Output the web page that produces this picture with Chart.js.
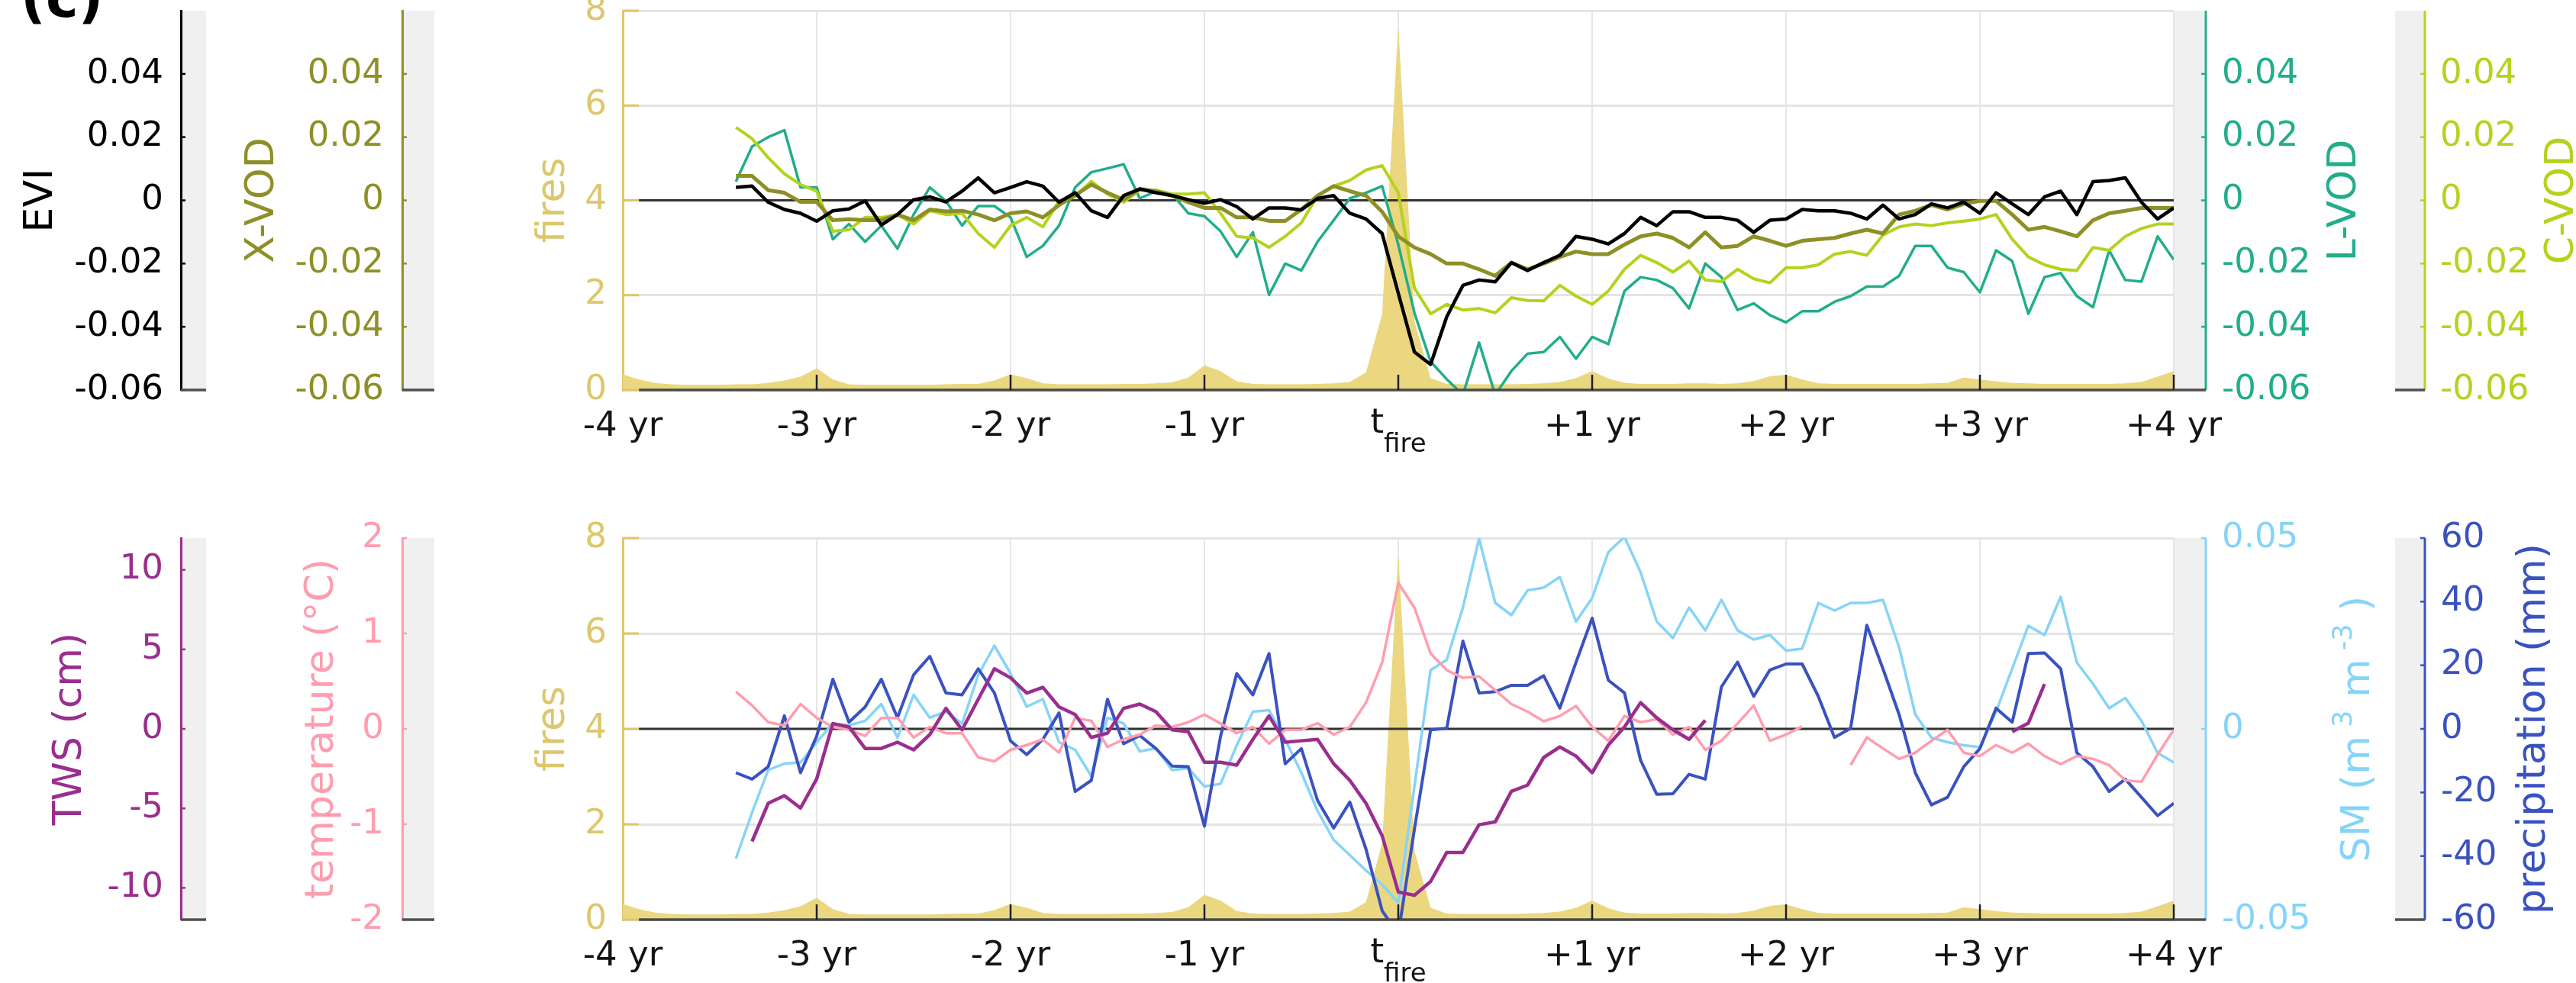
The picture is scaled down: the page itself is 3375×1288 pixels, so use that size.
<!DOCTYPE html>
<html>
<head>
<meta charset="utf-8">
<script src="https://cdn.jsdelivr.net/npm/chart.js@4.4.1/dist/chart.umd.min.js"></script>
<style>
  html, body { margin: 0; padding: 0; background: #ffffff; }
  #wrap { position: relative; width: 3375px; height: 1288px; overflow: hidden; background: #ffffff; }
  canvas { position: absolute; left: 0; }
</style>
</head>
<body>
<div id="wrap">
  <canvas id="top" width="3375" height="630" style="top:0px"></canvas>
  <canvas id="bottom" width="3375" height="658" style="top:630px"></canvas>
</div>
<script>
// ---- time axis: months relative to the fire ----
const months = [
  -48,-47,-46,-45,-44,-43,-42,-41,-40,-39,-38,-37,
  -36,-35,-34,-33,-32,-31,-30,-29,-28,-27,-26,-25,
  -24,-23,-22,-21,-20,-19,-18,-17,-16,-15,-14,-13,
  -12,-11,-10,-9,-8,-7,-6,-5,-4,-3,-2,-1,
  0,1,2,3,4,5,6,7,8,9,10,11,
  12,13,14,15,16,17,18,19,20,21,22,23,
  24,25,26,27,28,29,30,31,32,33,34,35,
  36,37,38,39,40,41,42,43,44,45,46,47,
  48
];
const xTickMonths = [-48, -36, -24, -12, 0, 12, 24, 36, 48];
const xTickLabels = ['-4 yr', '-3 yr', '-2 yr', '-1 yr', { base: 't', sub: 'fire' }, '+1 yr', '+2 yr', '+3 yr', '+4 yr'];

// ---- tick values of the y axes ----
const vegTicks = [-0.06, -0.04, -0.02, 0, 0.02, 0.04];
const fireTicks = [0, 2, 4, 6, 8];
const twsTicks = [-10, -5, 0, 5, 10];
const tempTicks = [-2, -1, 0, 1, 2];
const smTicks = [-0.05, 0, 0.05];
const precipTicks = [-60, -40, -20, 0, 20, 40, 60];

// ---- monthly fire counts ----
const fires = [
  0.33,0.22,0.15,0.12,0.11,0.11,0.11,0.12,0.12,0.15,0.2,0.28,
  0.46,0.22,0.12,0.11,0.11,0.11,0.11,0.11,0.12,0.13,0.13,0.2,
  0.33,0.25,0.14,0.12,0.12,0.12,0.12,0.13,0.13,0.14,0.16,0.26,
  0.52,0.4,0.18,0.13,0.12,0.12,0.12,0.13,0.14,0.17,0.37,1.6,
  7.7,1.45,0.25,0.13,0.12,0.12,0.12,0.12,0.13,0.14,0.17,0.25,
  0.4,0.24,0.15,0.13,0.13,0.13,0.14,0.14,0.13,0.14,0.19,0.29,
  0.32,0.22,0.14,0.13,0.13,0.13,0.13,0.13,0.13,0.14,0.15,0.26,
  0.22,0.18,0.15,0.14,0.13,0.13,0.13,0.13,0.13,0.14,0.17,0.28,
  0.4
];

// ---- vegetation anomalies ----
const evi = [
  null,null,null,null,null,null,null,0.0041,0.0045,-0.0006,-0.0029,-0.0041,
  -0.0066,-0.0033,-0.0027,-0.0002,-0.0078,-0.0045,0.0002,0.0011,-0.0005,0.0029,0.0071,0.0024,
  0.0041,0.0059,0.0045,-0.0006,0.0024,-0.0033,-0.0054,0.0015,0.0036,0.0024,0.0015,0.0002,
  -0.0009,0.0002,-0.0020,-0.0059,-0.0024,-0.0024,-0.0030,0.0006,0.0015,-0.0041,-0.0059,-0.0105,
  -0.0294,-0.0480,-0.0519,-0.0368,-0.0269,-0.0252,-0.0258,-0.0197,-0.0222,-0.0197,-0.0174,-0.0114,
  -0.0123,-0.0138,-0.0105,-0.0054,-0.0080,-0.0036,-0.0036,-0.0054,-0.0054,-0.0063,-0.0101,-0.0063,
  -0.0059,-0.0029,-0.0033,-0.0033,-0.0041,-0.0059,-0.0015,-0.0059,-0.0045,-0.0011,-0.0024,-0.0006,
  -0.0041,0.0024,-0.0011,-0.0045,0.0011,0.0029,-0.0045,0.0059,0.0063,0.0071,-0.0006,-0.0059,
  -0.0024
];
const xvod = [
  null,null,null,null,null,null,null,0.0077,0.0077,0.0032,0.0024,-0.0005,
  -0.0005,-0.0063,-0.0060,-0.0063,-0.0063,-0.0045,-0.0063,-0.0029,-0.0035,-0.0033,-0.0045,-0.0063,
  -0.0041,-0.0035,-0.0054,-0.0015,0.0015,0.0050,0.0024,0.0002,0.0036,0.0029,0.0015,-0.0006,
  -0.0024,-0.0024,-0.0054,-0.0054,-0.0065,-0.0065,-0.0029,0.0015,0.0045,0.0029,0.0015,-0.0036,
  -0.0114,-0.0149,-0.0170,-0.0200,-0.0200,-0.0218,-0.0239,-0.0197,-0.0218,-0.0200,-0.0179,-0.0162,
  -0.0170,-0.0170,-0.0140,-0.0114,-0.0105,-0.0119,-0.0149,-0.0101,-0.0149,-0.0144,-0.0114,-0.0128,
  -0.0144,-0.0128,-0.0123,-0.0119,-0.0105,-0.0093,-0.0105,-0.0045,-0.0033,-0.0015,-0.0029,-0.0011,
  -0.0002,-0.0002,-0.0045,-0.0093,-0.0084,-0.0098,-0.0114,-0.0063,-0.0041,-0.0033,-0.0024,-0.0024,
  -0.0024
];
const lvod = [
  null,null,null,null,null,null,null,0.0059,0.0170,0.0200,0.0222,0.0041,
  0.0041,-0.0123,-0.0075,-0.0131,-0.0080,-0.0153,-0.0045,0.0041,-0.0002,-0.0080,-0.0018,-0.0018,
  -0.0054,-0.0179,-0.0144,-0.0080,0.0041,0.0089,0.0101,0.0114,0.0006,0.0029,0.0020,-0.0041,
  -0.0050,-0.0098,-0.0179,-0.0101,-0.0299,-0.0200,-0.0222,-0.0131,-0.0063,0.0006,0.0024,0.0045,
  -0.0140,-0.0356,-0.0510,-0.0566,-0.0615,-0.0450,-0.0615,-0.0540,-0.0485,-0.0480,-0.0432,-0.0501,
  -0.0432,-0.0455,-0.0287,-0.0243,-0.0252,-0.0278,-0.0342,-0.0200,-0.0243,-0.0347,-0.0326,-0.0363,
  -0.0386,-0.0351,-0.0351,-0.0321,-0.0303,-0.0273,-0.0273,-0.0239,-0.0144,-0.0144,-0.0213,-0.0227,
  -0.0291,-0.0158,-0.0192,-0.0359,-0.0243,-0.0230,-0.0303,-0.0338,-0.0158,-0.0252,-0.0257,-0.0114,
  -0.0188
];
const cvod = [
  null,null,null,null,null,null,null,0.0231,0.0195,0.0135,0.0084,0.0050,
  0.0029,-0.0098,-0.0093,-0.0054,-0.0054,-0.0045,-0.0075,-0.0033,-0.0045,-0.0041,-0.0105,-0.0149,
  -0.0080,-0.0054,-0.0084,-0.0002,0.0015,0.0060,0.0020,-0.0006,0.0032,0.0032,0.0020,0.0020,
  0.0024,-0.0041,-0.0114,-0.0119,-0.0149,-0.0114,-0.0071,0.0015,0.0045,0.0063,0.0096,0.0110,
  0.0024,-0.0278,-0.0359,-0.0329,-0.0347,-0.0342,-0.0356,-0.0308,-0.0317,-0.0318,-0.0269,-0.0303,
  -0.0329,-0.0287,-0.0218,-0.0174,-0.0197,-0.0227,-0.0192,-0.0252,-0.0257,-0.0218,-0.0248,-0.0261,
  -0.0213,-0.0213,-0.0204,-0.0170,-0.0162,-0.0174,-0.0110,-0.0084,-0.0075,-0.0080,-0.0071,-0.0066,
  -0.0059,-0.0045,-0.0123,-0.0179,-0.0204,-0.0218,-0.0222,-0.0149,-0.0158,-0.0114,-0.0089,-0.0075,
  -0.0075
];

// ---- hydro-climate anomalies ----
const tws = [
  null,null,null,null,null,null,null,null,-7.08,-4.68,-4.20,-4.98,
  -3.15,0.33,0.12,-1.23,-1.23,-0.84,-1.32,-0.36,1.29,-0.06,1.86,3.78,
  3.21,2.25,2.61,1.38,0.90,-0.54,-0.27,1.29,1.56,1.08,-0.06,-0.18,
  -2.10,-2.10,-2.28,-0.66,0.81,-0.84,-0.75,-0.66,-2.19,-3.24,-4.68,-6.72,
  -10.26,-10.47,-9.60,-7.77,-7.77,-6.03,-5.85,-3.93,-3.54,-1.80,-1.14,-1.71,
  -2.76,-1.02,0.12,1.65,0.69,-0.06,-0.66,0.54,null,null,null,null,
  null,null,null,null,null,null,null,null,null,null,null,null,
  null,null,-0.18,0.36,2.82,null,null,null,null,null,null,null,
  null
];
const temperature = [
  null,null,null,null,null,null,null,0.39,0.245,0.07,0.035,0.26,
  0.115,0.02,-0.01,-0.075,0.115,0.115,-0.09,0.02,-0.045,-0.045,-0.30,-0.34,
  -0.22,-0.17,-0.11,-0.25,0.115,0.085,-0.19,-0.11,-0.06,0.035,0.02,0.07,
  0.15,0.055,-0.045,0.02,-0.155,-0.01,-0.01,0.06,-0.06,0.02,0.275,0.695,
  1.53,1.27,0.79,0.615,0.535,0.55,0.405,0.26,0.18,0.08,0.135,0.24,
  0.02,-0.125,0.135,0.07,0.10,-0.06,0.02,-0.22,-0.125,0.055,0.245,-0.125,
  -0.06,0.025,null,null,-0.38,-0.09,-0.205,-0.315,-0.25,-0.125,-0.01,-0.25,
  -0.285,-0.17,-0.25,-0.155,-0.285,-0.37,-0.285,-0.315,-0.38,-0.54,-0.555,-0.27,
  -0.01
];
const soilMoisture = [
  null,null,null,null,null,null,null,-0.0340,-0.0219,-0.0108,-0.0091,-0.0088,
  -0.0035,0.0014,0.0009,0.0021,0.0065,-0.0023,0.0089,0.0029,0.0045,0.0014,0.0141,0.0218,
  0.0145,0.0058,0.0078,-0.0035,-0.0055,-0.0124,0.0029,0.0014,-0.0059,-0.0051,-0.0108,-0.0103,
  -0.0151,-0.0144,-0.0043,0.0045,0.0049,-0.0028,-0.0115,-0.0215,-0.0291,-0.0331,-0.0371,-0.0408,
  -0.0456,-0.0150,0.0154,0.0181,0.0318,0.0499,0.0330,0.0298,0.0363,0.0370,0.0398,0.0281,
  0.0343,0.0463,0.0503,0.0410,0.0281,0.0238,0.0318,0.0258,0.0338,0.0258,0.0234,0.0246,
  0.0205,0.0210,0.0330,0.0310,0.0330,0.0330,0.0338,0.0214,0.0038,-0.0023,-0.0035,-0.0043,
  -0.0048,0.0045,0.0158,0.0270,0.0246,0.0346,0.0174,0.0118,0.0054,0.0081,0.0021,-0.0063,
  -0.0088
];
const precipitation = [
  null,null,null,null,null,null,null,-13.8,-15.8,-11.9,4.1,-13.8,
  -2.3,15.6,2.1,6.9,15.6,3.5,17.0,22.8,11.3,10.7,18.9,11.3,
  -3.8,-8.1,-3.3,5.0,-19.7,-16.2,9.3,-4.7,-2.1,-6.2,-11.7,-11.9,
  -30.6,-2.3,17.4,10.7,23.7,-11.0,-6.2,-22.5,-31.2,-23.0,-37.8,-57.2,
  -64.5,-31.5,-0.3,0.2,27.6,11.3,11.7,13.7,13.7,16.7,6.5,20.9,
  34.8,15.3,11.3,-9.9,-20.6,-20.4,-14.3,-15.8,13.2,21.0,10.2,18.5,
  20.4,20.4,10.2,-2.7,0.2,32.6,18.9,4.5,-13.8,-23.9,-21.5,-11.9,
  -6.2,6.5,2.1,23.7,23.9,18.9,-7.5,-11.9,-19.7,-15.8,-21.5,-27.3,
  -23.4
];

// ---- styling ----
const FONT = '"DejaVu Sans", "Open Sans", sans-serif';
const TICK_SIZE = 45;
const TITLE_SIZE = 52;
const X_LABEL_PAD = 21;
const COLORS = {
  evi: '#000000', xvod: '#8e8f26', lvod: '#22ad8b', cvod: '#b5d21f',
  firesAxis: '#dcc76c', firesFill: '#ebd77f',
  tws: '#9a2e8e', temp: '#ff9dae', sm: '#86d4f7', precip: '#3a52c0'
};

const fmt = v => String(Math.round(v * 1e6) / 1e6);
const pts = vals => months.map((m, i) => ({ x: m, y: vals[i] }));

function yAxis(o) {
  return {
    type: 'linear', position: o.side, weight: o.weight, min: o.min, max: o.max,
    afterBuildTicks: s => { s.ticks = o.ticks.map(v => ({ value: v })); },
    afterFit: s => { s.width = o.width; s.paddingTop = 0; s.paddingBottom = 0; },
    grid: o.grid
      ? { display: true, drawOnChartArea: true, drawTicks: false, color: '#e4e4e4', lineWidth: 3 }
      : { display: false, drawOnChartArea: false, drawTicks: false },
    border: { display: o.side === 'left', color: o.color, width: 3 },
    ticks: { color: o.color, padding: o.labelPad, autoSkip: false, font: { family: FONT, size: TICK_SIZE }, callback: v => fmt(v) },
    title: o.title
      ? { display: true, text: o.title, color: o.color, font: { family: FONT, size: TITLE_SIZE, lineHeight: 1 }, padding: { top: o.titlePad, bottom: 0 } }
      : { display: false }
  };
}

function xAxis(height) {
  return {
    type: 'linear', position: 'bottom', min: -48, max: 48, weight: 0,
    afterBuildTicks: s => { s.ticks = xTickMonths.map(v => ({ value: v })); },
    afterFit: s => { s.height = height; s.paddingLeft = 0; s.paddingRight = 0; },
    grid: {
      display: true, drawOnChartArea: true, drawTicks: false, lineWidth: 2,
      color: c => (c.tick && c.tick.value === xTickMonths[0]) ? 'rgba(0,0,0,0)' : '#e6e6e6'
    },
    border: { display: false },
    ticks: {
      color: '#141414', padding: X_LABEL_PAD, maxRotation: 0, autoSkip: false,
      font: { family: FONT, size: TICK_SIZE, lineHeight: 1.2 },
      callback: (v, i) => (typeof xTickLabels[i] === 'string' ? xTickLabels[i] : '')
    }
  };
}

const lineSet = (vals, axis, color, width) => ({
  type: 'line', data: pts(vals), yAxisID: axis, borderColor: color, borderWidth: width,
  pointRadius: 0, tension: 0, fill: false, clip: 0, borderJoinStyle: 'round', spanGaps: false
});
const fireSet = () => ({
  type: 'line', data: pts(fires), yAxisID: 'fires', borderWidth: 0, borderColor: COLORS.firesFill,
  backgroundColor: COLORS.firesFill, pointRadius: 0, tension: 0, fill: 'origin', clip: 0
});

// ---- per-panel decorations: grey axis strips, inward ticks, right-hand titles ----
const decor = {
  top: {
    zeroAxis: 'evi',
    strips: [
      { axis: 'evi', side: 'left', gap: 33 },
      { axis: 'xvod', side: 'left', gap: 42 },
      { axis: 'lvod', side: 'right', gap: 42 },
      { axis: 'cvod', side: 'right', gap: 39 }
    ],
    rightTitles: [
      { axis: 'lvod', offset: 224, parts: [{ t: 'L-VOD' }] },
      { axis: 'cvod', offset: 219, parts: [{ t: 'C-VOD' }] }
    ],
    panelLabel: '(c)'
  },
  bottom: {
    zeroAxis: 'tws',
    strips: [
      { axis: 'tws', side: 'left', gap: 33 },
      { axis: 'temp', side: 'left', gap: 42 },
      { axis: 'sm', side: 'right', gap: 42 },
      { axis: 'precip', side: 'right', gap: 39 }
    ],
    rightTitles: [
      { axis: 'sm', offset: 242, parts: [{ t: 'SM (m' }, { t: ' 3', sup: true }, { t: ' m' }, { t: ' -3', sup: true }, { t: ' )' }] },
      { axis: 'precip', offset: 182, parts: [{ t: 'precipitation (mm)' }] }
    ]
  }
};

function stripGeom(sc, s) {
  const axisX = s.side === 'left' ? sc.right : sc.left + s.gap;
  const x0 = s.side === 'left' ? axisX : sc.left;
  const x1 = s.side === 'left' ? axisX + s.gap : axisX;
  return { axisX, x0, x1 };
}

function drawRich(ctx, parts, cx, cy, size, color) {
  ctx.save();
  ctx.translate(cx, cy);
  ctx.rotate(-Math.PI / 2);
  ctx.fillStyle = color;
  ctx.textBaseline = 'middle';
  ctx.textAlign = 'left';
  const small = Math.round(size * 0.68);
  const widths = parts.map(p => {
    ctx.font = `${(p.sup || p.sub) ? small : size}px ${FONT}`;
    return ctx.measureText(p.t).width;
  });
  const total = widths.reduce((a, b) => a + b, 0);
  let x = -total / 2;
  parts.forEach((p, i) => {
    ctx.font = `${(p.sup || p.sub) ? small : size}px ${FONT}`;
    const dy = p.sup ? -size * 0.34 : (p.sub ? size * 0.34 : 0);
    ctx.fillText(p.t, x, dy);
    x += widths[i];
  });
  ctx.restore();
}

const panelDecor = {
  id: 'panelDecor',
  beforeDraw(chart) {
    const d = decor[chart.canvas.id];
    const ctx = chart.ctx, area = chart.chartArea;
    ctx.save();
    ctx.fillStyle = '#f0f0f0';
    d.strips.forEach(s => {
      const g = stripGeom(chart.scales[s.axis], s);
      ctx.fillRect(g.x0, area.top, g.x1 - g.x0, area.bottom - area.top);
    });
    ctx.restore();
  },
  afterDatasetDraw(chart, args) {
    // anomaly zero line sits right above the fire area, below the series
    if (chart.data.datasets[args.index].yAxisID !== 'fires') return;
    const d = decor[chart.canvas.id];
    const ctx = chart.ctx, xs = chart.scales.x;
    const y = chart.scales[d.zeroAxis].getPixelForValue(0);
    ctx.save();
    ctx.strokeStyle = '#333333';
    ctx.lineWidth = 3;
    ctx.beginPath();
    ctx.moveTo(xs.getPixelForValue(months[1]), y);
    ctx.lineTo(xs.getPixelForValue(months[months.length - 1]), y);
    ctx.stroke();
    ctx.restore();
  },
  afterDatasetsDraw(chart) {
    const d = decor[chart.canvas.id];
    const ctx = chart.ctx, area = chart.chartArea, xs = chart.scales.x;
    ctx.save();
    // bottom axis line
    ctx.strokeStyle = '#4a4a4a';
    ctx.lineWidth = 3.5;
    ctx.beginPath();
    ctx.moveTo(xs.getPixelForValue(months[1]), area.bottom);
    ctx.lineTo(area.right, area.bottom);
    ctx.stroke();
    // inward year ticks
    ctx.strokeStyle = '#1e1e1e';
    ctx.lineWidth = 2.5;
    xTickMonths.slice(1).forEach(m => {
      const x = xs.getPixelForValue(m);
      ctx.beginPath(); ctx.moveTo(x, area.bottom); ctx.lineTo(x, area.bottom - 20); ctx.stroke();
    });
    // inward ticks of the fire axis
    const fs = chart.scales.fires;
    ctx.strokeStyle = COLORS.firesAxis;
    ctx.lineWidth = 3;
    fs.ticks.forEach(t => {
      const y = fs.getPixelForValue(t.value);
      ctx.beginPath(); ctx.moveTo(area.left, y); ctx.lineTo(area.left + 21, y); ctx.stroke();
    });
    // side axes: lines, inward ticks, strip base
    d.strips.forEach(s => {
      const sc = chart.scales[s.axis];
      const g = stripGeom(sc, s);
      const color = sc.options.ticks.color;
      ctx.strokeStyle = color;
      ctx.lineWidth = 3;
      if (s.side === 'right') {
        ctx.beginPath(); ctx.moveTo(g.axisX, area.top); ctx.lineTo(g.axisX, area.bottom); ctx.stroke();
      }
      ctx.lineWidth = 2.5;
      const dir = s.side === 'left' ? 1 : -1;
      sc.ticks.forEach(t => {
        const y = sc.getPixelForValue(t.value);
        ctx.beginPath(); ctx.moveTo(g.axisX, y); ctx.lineTo(g.axisX + dir * 6, y); ctx.stroke();
      });
      ctx.strokeStyle = '#505050';
      ctx.lineWidth = 3.5;
      ctx.beginPath(); ctx.moveTo(g.x0, area.bottom); ctx.lineTo(g.x1, area.bottom); ctx.stroke();
    });
    ctx.restore();
  },
  afterDraw(chart) {
    const d = decor[chart.canvas.id];
    const ctx = chart.ctx, area = chart.chartArea, xs = chart.scales.x;
    const midY = (area.top + area.bottom) / 2;
    d.rightTitles.forEach(rt => {
      const sc = chart.scales[rt.axis];
      drawRich(ctx, rt.parts, sc.left + rt.offset, midY, TITLE_SIZE, sc.options.ticks.color);
    });
    // tick label with subscript
    ctx.save();
    ctx.fillStyle = '#141414';
    ctx.textAlign = 'left';
    ctx.textBaseline = 'alphabetic';
    const labelMid = xs.top + X_LABEL_PAD + TICK_SIZE * 0.6;
    const baseY = labelMid + 8;
    xTickLabels.forEach((lbl, i) => {
      if (typeof lbl === 'string') return;
      const cx = xs.getPixelForValue(xTickMonths[i]);
      const subSize = 34;
      ctx.font = `${TICK_SIZE}px ${FONT}`;
      const wb = ctx.measureText(lbl.base).width;
      ctx.font = `${subSize}px ${FONT}`;
      const ws = ctx.measureText(lbl.sub).width;
      const x0 = cx - (wb + ws) / 2;
      ctx.font = `${TICK_SIZE}px ${FONT}`;
      ctx.fillText(lbl.base, x0, baseY);
      ctx.font = `${subSize}px ${FONT}`;
      ctx.fillText(lbl.sub, x0 + wb, baseY + 25);
    });
    if (d.panelLabel) {
      ctx.fillStyle = '#000000';
      ctx.font = `bold 72px ${FONT}`;
      ctx.fillText(d.panelLabel, 27, 22);
    }
    ctx.restore();
  }
};

const common = {
  responsive: false,
  devicePixelRatio: 1,
  animation: false,
  events: [],
  plugins: { legend: { display: false }, tooltip: { enabled: false } }
};

// ---- panel 1: vegetation ----
new Chart(document.getElementById('top'), {
  type: 'line',
  data: {
    datasets: [
      lineSet(evi, 'evi', COLORS.evi, 4.5),
      lineSet(xvod, 'xvod', COLORS.xvod, 5),
      lineSet(cvod, 'cvod', COLORS.cvod, 4),
      lineSet(lvod, 'lvod', COLORS.lvod, 3.5),
      fireSet()
    ]
  },
  options: Object.assign({}, common, {
    layout: { padding: { top: 14, bottom: 29, left: 0, right: 0 } },
    scales: {
      x: xAxis(90),
      evi: yAxis({ side: 'left', weight: 3, min: -0.06, max: 0.06, ticks: vegTicks, color: COLORS.evi, width: 237, labelPad: 23, title: 'EVI', titlePad: 28 }),
      xvod: yAxis({ side: 'left', weight: 2, min: -0.06, max: 0.06, ticks: vegTicks, color: COLORS.xvod, width: 290, labelPad: 24, title: 'X-VOD', titlePad: 81 }),
      fires: yAxis({ side: 'left', weight: 1, min: 0, max: 8, ticks: fireTicks, color: COLORS.firesAxis, width: 289, labelPad: 21, title: 'fires', titlePad: 172, grid: true }),
      lvod: yAxis({ side: 'right', weight: 1, min: -0.06, max: 0.06, ticks: vegTicks, color: COLORS.lvod, width: 290, labelPad: 63 }),
      cvod: yAxis({ side: 'right', weight: 2, min: -0.06, max: 0.06, ticks: vegTicks, color: COLORS.cvod, width: 237, labelPad: 59 })
    }
  }),
  plugins: [panelDecor]
});

// ---- panel 2: water and climate ----
new Chart(document.getElementById('bottom'), {
  type: 'line',
  data: {
    datasets: [
      lineSet(tws, 'tws', COLORS.tws, 4.5),
      lineSet(temperature, 'temp', COLORS.temp, 3.5),
      lineSet(precipitation, 'precip', COLORS.precip, 4),
      lineSet(soilMoisture, 'sm', COLORS.sm, 3.5),
      fireSet()
    ]
  },
  options: Object.assign({}, common, {
    layout: { padding: { top: 75, bottom: 13, left: 0, right: 0 } },
    scales: {
      x: xAxis(70),
      tws: yAxis({ side: 'left', weight: 3, min: -12, max: 12, ticks: twsTicks, color: COLORS.tws, width: 237, labelPad: 23, title: 'TWS (cm)', titlePad: 66 }),
      temp: yAxis({ side: 'left', weight: 2, min: -2, max: 2, ticks: tempTicks, color: COLORS.temp, width: 290, labelPad: 24, title: 'temperature (°C)', titlePad: 159 }),
      fires: yAxis({ side: 'left', weight: 1, min: 0, max: 8, ticks: fireTicks, color: COLORS.firesAxis, width: 289, labelPad: 21, title: 'fires', titlePad: 172, grid: true }),
      sm: yAxis({ side: 'right', weight: 1, min: -0.05, max: 0.05, ticks: smTicks, color: COLORS.sm, width: 290, labelPad: 63 }),
      precip: yAxis({ side: 'right', weight: 2, min: -60, max: 60, ticks: precipTicks, color: COLORS.precip, width: 237, labelPad: 60 })
    }
  }),
  plugins: [panelDecor]
});
</script>
</body>
</html>
